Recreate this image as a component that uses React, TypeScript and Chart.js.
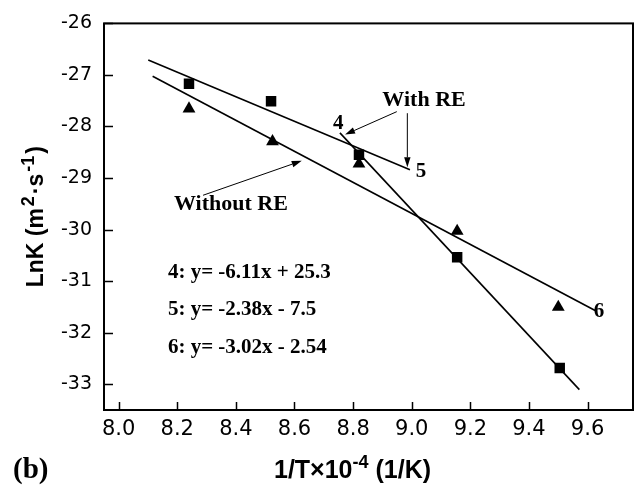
import { useEffect, useRef } from "react";
import { Chart, registerables } from "chart.js";

Chart.register(...registerables);

// ---- data ----
const squareX = [8.24, 8.52, 8.82, 9.155, 9.505];
const squareY = [-27.17, -27.51, -28.55, -30.535, -32.685];
const triangleX = [8.24, 8.525, 8.82, 9.155, 9.5];
const triangleY = [-27.655, -28.29, -28.725, -30.03, -31.505];

// fitted lines (end points as drawn)
const fit4X = [8.755, 9.572];
const fit4Y = [-28.124, -33.105];
const fit5X = [8.101, 8.994];
const fit5Y = [-26.712, -28.838];
const fit6X = [8.116, 9.629];
const fit6Y = [-27.025, -31.578];

const xTicks = [8.0, 8.2, 8.4, 8.6, 8.8, 9.0, 9.2, 9.4, 9.6];
const yTicks = [-33, -32, -31, -30, -29, -28, -27, -26];
const xRange = [7.95, 9.755];
const yRange = [-33.5, -26];

const equations = ["4: y= -6.11x + 25.3", "5: y= -2.38x - 7.5", "6: y= -3.02x - 2.54"];
const equationAnchor = { x: 8.168, y: [-30.828, -31.559, -32.292] };
const lineLabels = [
  { text: "4", x: 8.749, y: -27.95 },
  { text: "5", x: 9.032, y: -28.87 },
  { text: "6", x: 9.639, y: -31.59 },
];
const groupLabels = [
  { text: "With RE", x: 9.042, y: -27.49 },
  { text: "Without RE", x: 8.383, y: -29.51 },
];
const arrows = [
  { x1: 8.949, y1: -27.712, x2: 8.7725, y2: -28.157 },
  { x1: 8.985, y1: -27.742, x2: 8.985, y2: -28.792 },
  { x1: 8.288, y1: -29.334, x2: 8.6247, y2: -28.666 },
];

const pts = (xs: number[], ys: number[]) => xs.map((x, i) => ({ x, y: ys[i] }));

const SERIF = "'Liberation Serif', 'Times New Roman', serif";
const SANS = "'Liberation Sans', Arial, sans-serif";

type Seg = { t: string; sup?: boolean };

function drawSegs(ctx: CanvasRenderingContext2D, segs: Seg[], size: number, supSize: number, rise: number, gap = 0) {
  const fontMain = `bold ${size}px ${SANS}`;
  const fontSup = `bold ${supSize}px ${SANS}`;
  let total = 0;
  const widths = segs.map((s) => {
    ctx.font = s.sup ? fontSup : fontMain;
    const w = ctx.measureText(s.t).width + gap;
    total += w;
    return w;
  });
  total -= gap;
  let x = -total / 2;
  ctx.textAlign = "left";
  ctx.textBaseline = "alphabetic";
  segs.forEach((s, i) => {
    ctx.font = s.sup ? fontSup : fontMain;
    ctx.fillText(s.t, x, s.sup ? -rise : 0);
    x += widths[i];
  });
}

const decorPlugin = {
  id: "decor",
  beforeDraw(chart: any) {
    const ctx = chart.ctx;
    ctx.save();
    ctx.fillStyle = "#fff";
    ctx.fillRect(0, 0, chart.width, chart.height);
    ctx.restore();
  },
  afterDatasetsDraw(chart: any) {
    const ctx: CanvasRenderingContext2D = chart.ctx;
    const { left, right, top, bottom } = chart.chartArea;
    const sx = chart.scales.x;
    const sy = chart.scales.y;
    ctx.save();
    ctx.strokeStyle = "#000";
    ctx.fillStyle = "#000";

    // frame
    ctx.lineWidth = 2;
    ctx.strokeRect(left, top, right - left, bottom - top);

    // inward ticks
    ctx.lineWidth = 1.5;
    ctx.beginPath();
    xTicks.forEach((v) => {
      const px = Math.round(sx.getPixelForValue(v)) + 0.5;
      ctx.moveTo(px, bottom);
      ctx.lineTo(px, bottom - 8);
    });
    yTicks.forEach((v) => {
      const py = Math.round(sy.getPixelForValue(v)) + 0.5;
      ctx.moveTo(left, py);
      ctx.lineTo(left + 9, py);
    });
    ctx.stroke();

    // arrows
    ctx.lineWidth = 1;
    arrows.forEach((a) => {
      const x1 = sx.getPixelForValue(a.x1);
      const y1 = sy.getPixelForValue(a.y1);
      const x2 = sx.getPixelForValue(a.x2);
      const y2 = sy.getPixelForValue(a.y2);
      const ang = Math.atan2(y2 - y1, x2 - x1);
      const hl = 10;
      const hw = 3.2;
      const bx = x2 - hl * Math.cos(ang);
      const by = y2 - hl * Math.sin(ang);
      ctx.beginPath();
      ctx.moveTo(x1, y1);
      ctx.lineTo(bx, by);
      ctx.stroke();
      ctx.beginPath();
      ctx.moveTo(x2, y2);
      ctx.lineTo(bx + hw * Math.sin(ang), by - hw * Math.cos(ang));
      ctx.lineTo(bx - hw * Math.sin(ang), by + hw * Math.cos(ang));
      ctx.closePath();
      ctx.fill();
    });

    // in-plot texts
    ctx.textBaseline = "middle";
    ctx.textAlign = "center";
    ctx.font = `bold 22px ${SERIF}`;
    groupLabels.forEach((g) => {
      ctx.fillText(g.text, sx.getPixelForValue(g.x), sy.getPixelForValue(g.y));
    });
    ctx.font = `bold 21px ${SERIF}`;
    lineLabels.forEach((g) => {
      ctx.fillText(g.text, sx.getPixelForValue(g.x), sy.getPixelForValue(g.y));
    });
    ctx.textAlign = "left";
    equations.forEach((e, i) => {
      ctx.fillText(e, sx.getPixelForValue(equationAnchor.x), sy.getPixelForValue(equationAnchor.y[i]));
    });

    // panel label
    ctx.textBaseline = "alphabetic";
    ctx.font = `bold 29px ${SERIF}`;
    ctx.fillText("(b)", 13, 478);

    // x title
    ctx.save();
    ctx.translate((left + right) / 2 - 16, 478);
    drawSegs(ctx, [{ t: "1/T×10" }, { t: "-4", sup: true }, { t: " (1/K)" }], 25, 18, 10);
    ctx.restore();

    // y title
    ctx.save();
    ctx.translate(43, (top + bottom) / 2);
    ctx.rotate(-Math.PI / 2);
    drawSegs(ctx, [{ t: "LnK (m" }, { t: "2", sup: true }, { t: "·s" }, { t: "-1", sup: true }, { t: ")" }], 23, 18, 9, 2);
    ctx.restore();

    ctx.restore();
  },
};

export default function App() {
  const ref = useRef<HTMLCanvasElement | null>(null);
  useEffect(() => {
    if (!ref.current) return;
    const lineDs = (xs: number[], ys: number[]) => ({
      type: "scatter" as const,
      data: pts(xs, ys),
      showLine: true,
      borderColor: "#000",
      borderWidth: 1.6,
      pointRadius: 0,
      fill: false,
    });
    const chart = new Chart(ref.current, {
      type: "scatter",
      data: {
        datasets: [
          lineDs(fit4X, fit4Y),
          lineDs(fit5X, fit5Y),
          lineDs(fit6X, fit6Y),
          {
            data: pts(triangleX, triangleY),
            pointStyle: "triangle",
            pointRadius: 7.4,
            backgroundColor: "#000",
            borderColor: "#000",
            borderWidth: 0,
          },
          {
            data: pts(squareX, squareY),
            pointStyle: "rect",
            pointRadius: 7.4,
            backgroundColor: "#000",
            borderColor: "#000",
            borderWidth: 0,
          },
        ],
      },
      options: {
        animation: false,
        responsive: false,
        devicePixelRatio: 1,
        layout: { padding: { left: 0, top: 17, right: 3, bottom: 0 }, autoPadding: false },
        plugins: { legend: { display: false }, tooltip: { enabled: false } },
        scales: {
          x: {
            type: "linear",
            min: xRange[0],
            max: xRange[1],
            grid: { display: false, drawTicks: false },
            border: { display: false },
            ticks: {
              padding: 7,
              color: "#000",
              autoSkip: false,
              maxRotation: 0,
              font: { family: "'DejaVu Sans'", size: 21 },
              callback: (v: any) => Number(v).toFixed(1),
            },
            afterBuildTicks: (s: any) => {
              s.ticks = xTicks.map((v) => ({ value: v }));
            },
            afterFit: (s: any) => {
              s.height = 76;
            },
          },
          y: {
            type: "linear",
            min: yRange[0],
            max: yRange[1],
            grid: { display: false, drawTicks: false },
            border: { display: false },
            ticks: {
              padding: 12,
              color: "#000",
              autoSkip: false,
              font: { family: "'DejaVu Sans'", size: 19 },
              callback: (v: any) => String(v),
            },
            afterBuildTicks: (s: any) => {
              s.ticks = yTicks.map((v) => ({ value: v }));
            },
            afterFit: (s: any) => {
              s.width = 104;
            },
          },
        },
      },
      plugins: [decorPlugin],
    });
    return () => chart.destroy();
  }, []);
  return (
    <div style={{ position: "fixed", left: 0, top: 0, width: 636, height: 486, background: "#fff" }}>
      <canvas ref={ref} width={636} height={486} style={{ display: "block" }} />
    </div>
  );
}
